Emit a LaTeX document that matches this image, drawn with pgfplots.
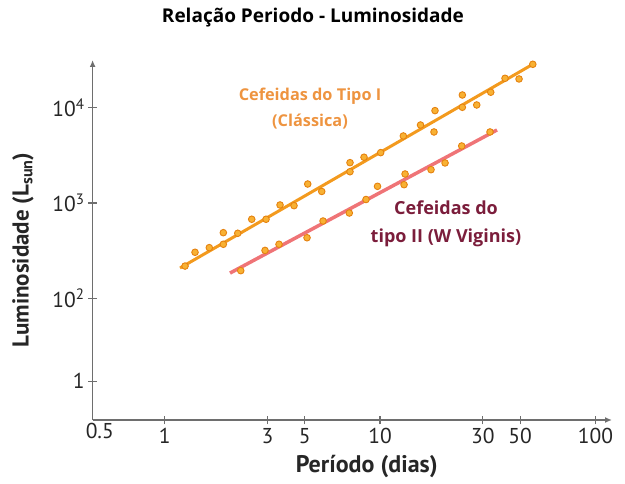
\documentclass[border=0pt]{standalone}
\usepackage{pgfplots}
\pgfplotsset{compat=1.18}
\usetikzlibrary{arrows.meta}
\usepackage{fontspec}
\setmainfont{Open Sans}
\newfontfamily\ptsans{PT Sans}
\definecolor{axgray}{HTML}{6E6E6E}
\definecolor{orline}{HTML}{F39A1E}
\definecolor{rdline}{HTML}{EF7477}
\definecolor{ptfill}{HTML}{F8B133}
\definecolor{ptedge}{HTML}{E5820F}
\definecolor{ortext}{HTML}{EE9440}
\definecolor{rdtext}{HTML}{7B1D3B}

\pgfplotstableread{
P L
1.244 218
1.384 304
1.612 340
1.873 369
1.873 488
2.185 481
2.537 675
2.957 675
3.434 953
3.988 937
4.617 1581
5.362 1321
7.256 2649
7.256 2128
8.428 3020
10.07 3373
12.83 5047
15.42 6577
17.81 5559
18.00 9311
24.11 13580
24.11 10090
28.12 10670
32.66 14520
38.05 20320
44.2 20000
51.2 28510
}\tipoI

\pgfplotstableread{
P L
2.256 195
2.925 318
3.397 369
4.583 432
5.438 647
7.202 785
8.61 1088
9.736 1496
12.93 1556
13.07 2014
17.25 2235
20.04 2630
23.95 3963
32.41 5559
}\tipoII

\begin{document}
\begin{tikzpicture}
\useasboundingbox (-92.6pt,-63pt) rectangle (532.4pt,420pt);
\begin{axis}[
  at={(0,0)}, anchor=south west,
  scale only axis, width=519.4pt, height=360pt,
  xmode=log, ymode=log,
  xmin=0.463, xmax=119.4, ymin=5.29, ymax=31620,
  axis lines=left,
  axis line style={axgray, line width=1.3pt, -{Latex[length=7pt,width=6pt]}},
  xtick={1,3,4.47,10,30,44.7,100},
  xticklabels={1,3,5,10,30,50,100},
  extra x ticks={0.5}, extra x tick labels={0.5},
  extra x tick style={major tick length=0pt},
  ytick={13.55,100,1000,10000},
  yticklabels={1,10\textsuperscript{2},10\textsuperscript{3},10\textsuperscript{4}},
  xminorticks=false, yminorticks=false,
  tick align=center, major tick length=9pt,
  tick style={axgray, line width=1.1pt},
  ticklabel style={font=\ptsans\fontsize{21.5}{21.5}\selectfont, text=black!85},
  /pgf/number format/assume math mode=true,
  clip=false,
]
\addplot[orline, line width=3pt] coordinates {(1.179,208) (52.45,29440)};
\addplot[rdline, line width=3.5pt] coordinates {(2.012,184) (34.93,5834)};
\addplot[only marks, mark=*, mark size=3.3pt, mark options={fill=ptfill, draw=ptedge, line width=0.9pt}] table[x=P, y=L] {\tipoI};
\addplot[only marks, mark=*, mark size=3.3pt, mark options={fill=ptfill, draw=ptedge, line width=0.9pt}] table[x=P, y=L] {\tipoII};

\node[font=\bfseries\fontsize{19}{19}\selectfont] at (axis description cs:0.4243,1.1167) {Relação Periodo - Luminosidade};
\node[font=\bfseries\fontsize{16.3}{26}\selectfont, text=ortext, align=center] at (axis description cs:0.4186,0.8639) {Cefeidas do Tipo I\\(Clássica)};
\node[font=\bfseries\fontsize{18}{28}\selectfont, text=rdtext, align=center] at (axis description cs:0.6804,0.5444) {Cefeidas do\\tipo II (W Viginis)};
\node[font=\ptsans\bfseries\fontsize{24}{24}\selectfont, text=black!85] at (axis description cs:0.5278,-0.1278) {Período (dias)};
\node[rotate=90, font=\ptsans\bfseries\fontsize{23}{23}\selectfont, text=black!85] at (axis description cs:-0.134,0.4722) {Luminosidade (L\textsubscript{sun})};
\end{axis}
\end{tikzpicture}
\end{document}
